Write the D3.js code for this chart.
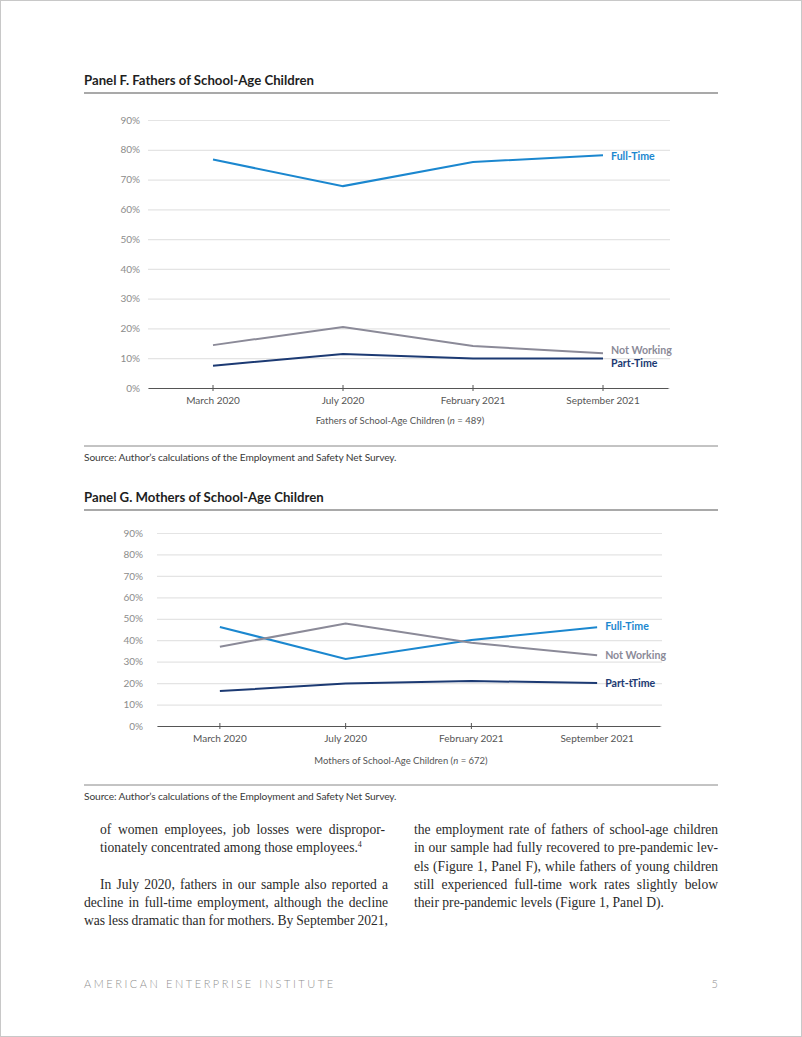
<!DOCTYPE html>
<html>
<head>
<meta charset="utf-8">
<script src="https://cdn.jsdelivr.net/npm/d3@7"></script>
<style>
  html, body { margin: 0; padding: 0; background: #fff; }
  #page { position: relative; width: 802px; height: 1037px; overflow: hidden; }
  svg { position: absolute; left: 0; top: 0; }
</style>
</head>
<body>
<div id="page"></div>
<script>
// ---------- DATA ----------
const periods = ["March 2020", "July 2020", "February 2021", "September 2021"];
const yTicks = [0, 10, 20, 30, 40, 50, 60, 70, 80, 90];

const fathersFullTime   = [76.7, 67.8, 75.9, 78.2];
const fathersNotWorking = [14.4, 20.5, 14.1, 11.7];
const fathersPartTime   = [7.5, 11.4, 9.9, 9.9];

const mothersFullTime   = [46.2, 31.3, 40.1, 46.0];
const mothersNotWorking = [37.0, 47.8, 38.8, 33.0];
const mothersPartTime   = [16.3, 19.8, 21.0, 20.0];

const fathersLabels = ["Full-Time", "Not Working", "Part-Time"];
const mothersLabels = ["Full-Time", "Not Working", "Part-tTime"];

// ---------- STYLE ----------
const colors = ["#1b87cf", "#8b8a98", "#1c3a73"];
const sans = "Lato, 'Open Sans', sans-serif";
const serif = "'Liberation Serif', 'DejaVu Serif', serif";

const page = d3.select("#page");
const svg = page.append("svg").attr("width", 802).attr("height", 1037);

svg.append("rect").attr("x", 0.5).attr("y", 0.5).attr("width", 801).attr("height", 1036)
  .attr("fill", "none").attr("stroke", "#c8c8c8");

function panel(cfg) {
  svg.append("text").attr("x", 84).attr("y", cfg.titleY)
    .attr("font-family", sans).attr("font-weight", 700).attr("font-size", 13.2)
    .attr("fill", "#1e1e1e").text(cfg.title);
  svg.append("line").attr("x1", 84).attr("x2", 718).attr("y1", cfg.ruleY).attr("y2", cfg.ruleY)
    .attr("stroke", "#555").attr("stroke-width", 1.2);

  const x = d3.scaleBand().domain(periods).range([cfg.x0, cfg.x1]);
  const y = d3.scaleLinear().domain([0, 90]).range([cfg.y0, cfg.y90]);
  const g = svg.append("g");

  const ya = g.append("g").attr("transform", `translate(${cfg.x0},0)`)
    .call(d3.axisLeft(y).tickValues(yTicks).tickFormat(d => d + "%")
      .tickSize(-(cfg.gridX1 - cfg.x0)).tickPadding(cfg.yPad));
  ya.select(".domain").remove();
  ya.selectAll(".tick line").attr("stroke", "#e4e4e4").attr("stroke-width", 1.2);
  ya.selectAll(".tick text").attr("font-family", sans).attr("font-size", 10)
    .attr("font-weight", 400).attr("fill", "#8c8c8c");

  const xa = g.append("g").attr("transform", `translate(0,${cfg.y0})`)
    .call(d3.axisBottom(x).tickSizeInner(3).tickSizeOuter(0).tickPadding(6));
  xa.select(".domain").attr("stroke", "#555").attr("stroke-width", 1.2);
  xa.selectAll(".tick line").attr("stroke", "#555").attr("y1", -3);
  xa.selectAll(".tick text").attr("font-family", sans).attr("font-size", 10)
    .attr("font-weight", 400).attr("fill", "#555");

  const t = svg.append("text").attr("x", cfg.axisTitleX).attr("y", cfg.axisTitleY)
    .attr("text-anchor", "middle").attr("font-family", sans).attr("font-size", 9.5)
    .attr("font-weight", 400).attr("fill", "#555");
  t.append("tspan").text(cfg.axisTitle[0]);
  t.append("tspan").attr("font-style", "italic").text("n");
  t.append("tspan").text(cfg.axisTitle[1]);

  const line = d3.line().x((d, i) => x(periods[i]) + x.bandwidth() / 2).y(d => y(d));
  cfg.series.forEach((s, k) => {
    g.append("path").datum(s).attr("d", line).attr("fill", "none")
      .attr("stroke", colors[k]).attr("stroke-width", 2);
    const last = s[s.length - 1];
    g.append("text").attr("x", x(periods[3]) + x.bandwidth() / 2 + cfg.labelDx)
      .attr("y", y(last) + cfg.labelDy[k]).attr("dy", "0.35em")
      .attr("font-family", sans).attr("font-weight", 700).attr("font-size", 10.6)
      .attr("fill", colors[k]).text(cfg.labels[k]);
  });

  svg.append("line").attr("x1", 84).attr("x2", 718).attr("y1", cfg.srcRuleY).attr("y2", cfg.srcRuleY)
    .attr("stroke", "#888").attr("stroke-width", 1);
  svg.append("text").attr("x", 84).attr("y", cfg.srcY)
    .attr("font-family", sans).attr("font-size", 10.2).attr("font-weight", 400)
    .attr("fill", "#3a3a3a").attr("letter-spacing", -0.1)
    .text("Source: Author’s calculations of the Employment and Safety Net Survey.");
}

panel({
  title: "Panel F. Fathers of School-Age Children", titleY: 85, ruleY: 93,
  x0: 148, x1: 668, gridX1: 670, y0: 388, y90: 120, yPad: 8,
  axisTitle: ["Fathers of School-Age Children (", " = 489)"], axisTitleX: 400, axisTitleY: 424,
  series: [fathersFullTime, fathersNotWorking, fathersPartTime], labels: fathersLabels,
  labelDx: 8, labelDy: [1, -3, 5],
  srcRuleY: 446, srcY: 461
});

panel({
  title: "Panel G. Mothers of School-Age Children", titleY: 502, ruleY: 510,
  x0: 157, x1: 660, gridX1: 662, y0: 726, y90: 533, yPad: 14,
  axisTitle: ["Mothers of School-Age Children (", " = 672)"], axisTitleX: 401, axisTitleY: 764,
  series: [mothersFullTime, mothersNotWorking, mothersPartTime], labels: mothersLabels,
  labelDx: 8, labelDy: [-1, 0, 0],
  srcRuleY: 785, srcY: 800
});

// ---------- BODY TEXT ----------
const bodyLines = [
  { x: 100, y: 834, w: 285, t: "of women employees, job losses were dispropor-", j: true },
  { x: 100, y: 852, w: 0,   t: "tionately concentrated among those employees.", sup: "4" },
  { x: 100, y: 889, w: 288, t: "In July 2020, fathers in our sample also reported a", j: true },
  { x: 84,  y: 907, w: 304, t: "decline in full-time employment, although the decline", j: true },
  { x: 84,  y: 925, w: 304, t: "was less dramatic than for mothers. By September 2021,", j: true },
  { x: 414, y: 834, w: 304, t: "the employment rate of fathers of school-age children", j: true },
  { x: 414, y: 852, w: 304, t: "in our sample had fully recovered to pre-pandemic lev-", j: true },
  { x: 414, y: 871, w: 304, t: "els (Figure 1, Panel F), while fathers of young children", j: true },
  { x: 414, y: 889, w: 304, t: "still experienced full-time work rates slightly below", j: true },
  { x: 414, y: 907, w: 0,   t: "their pre-pandemic levels (Figure 1, Panel D)." }
];
bodyLines.forEach(l => {
  const tx = svg.append("text").attr("x", l.x).attr("y", l.y)
    .attr("font-family", serif).attr("font-size", 13.6).attr("fill", "#2a2a2a").text(l.t);
  if (l.j) {
    const len = tx.node().getComputedTextLength();
    const spaces = (l.t.match(/ /g) || []).length;
    let ws = (l.w - len) / spaces;
    if (ws < -1.5) {
      tx.attr("textLength", l.w).attr("lengthAdjust", "spacingAndGlyphs");
    } else {
      tx.attr("word-spacing", ws);
    }
  }
  if (l.sup) tx.append("tspan").attr("font-size", 8).attr("dy", -5).text(l.sup);
});

// ---------- FOOTER ----------
svg.append("text").attr("x", 84).attr("y", 988)
  .attr("font-family", sans).attr("font-size", 11).attr("font-weight", 300)
  .attr("letter-spacing", 2.55).attr("fill", "#8f8f8f").text("AMERICAN ENTERPRISE INSTITUTE");
svg.append("text").attr("x", 718).attr("y", 988).attr("text-anchor", "end")
  .attr("font-family", sans).attr("font-size", 11).attr("font-weight", 300)
  .attr("fill", "#8f8f8f").text("5");
</script>
</body>
</html>
